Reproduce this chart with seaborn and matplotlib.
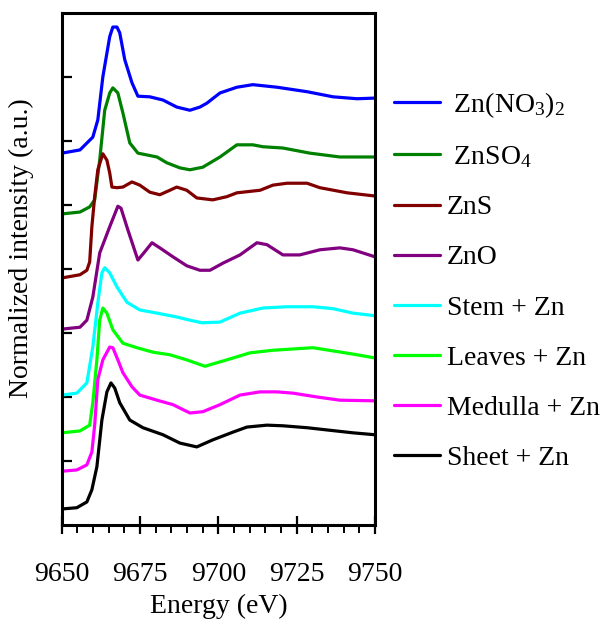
import numpy as np
import matplotlib
matplotlib.use('Agg')
import matplotlib.pyplot as plt
import seaborn as sns
from matplotlib.ticker import MultipleLocator

# energy (eV) / normalized intensity (stacked, offset)
nitrate_e = [9650, 9655.8, 9659.9, 9661.5, 9663.1, 9665.3, 9666.3, 9667.6, 9668.5, 9670.1, 9672.4, 9674.3,
             9678.1, 9682.3, 9686.7, 9690.9, 9694.1, 9696.3, 9700.5, 9705.9, 9711.0, 9718.7, 9728.3,
             9736.6, 9744.3, 9750]
nitrate_i = [5.81, 5.86, 6.06, 6.33, 7.00, 7.63, 7.78, 7.78, 7.69, 7.27, 6.91, 6.70,
             6.69, 6.64, 6.53, 6.48, 6.53, 6.59, 6.75, 6.84, 6.88, 6.84, 6.77,
             6.69, 6.66, 6.67]

sulfate_e = [9650, 9655.8, 9658.9, 9660.5, 9662.1, 9663.7, 9665.3, 9666.3, 9667.9, 9669.5, 9671.7, 9674.3,
             9680.4, 9683.5, 9687.7, 9690.9, 9695.0, 9700.5, 9705.9, 9711.0, 9714.2, 9720.6, 9729.2,
             9738.8, 9750]
sulfate_i = [4.86, 4.89, 4.97, 5.08, 5.70, 6.48, 6.75, 6.83, 6.75, 6.44, 5.97, 5.81,
             5.75, 5.66, 5.58, 5.55, 5.59, 5.75, 5.94, 5.94, 5.91, 5.89, 5.81,
             5.75, 5.75]

zns_e = [9650, 9655.8, 9658.0, 9658.9, 9659.6, 9660.5, 9661.5, 9663.1, 9664.4, 9665.3, 9666.0, 9667.6,
         9669.5, 9672.4, 9674.9, 9678.1, 9681.3, 9684.5, 9686.7, 9689.9, 9693.1, 9698.2, 9702.7,
         9705.9, 9713.3, 9717.4, 9721.9, 9728.3, 9732.4, 9741.1, 9750]
zns_i = [3.86, 3.91, 3.98, 4.11, 4.66, 5.13, 5.55, 5.80, 5.70, 5.50, 5.28, 5.27,
         5.28, 5.36, 5.31, 5.20, 5.16, 5.23, 5.28, 5.23, 5.11, 5.08, 5.13,
         5.19, 5.23, 5.31, 5.34, 5.34, 5.27, 5.19, 5.14]

zno_e = [9650, 9655.8, 9658.0, 9659.9, 9662.1, 9665.3, 9667.9, 9668.9, 9671.1, 9674.3, 9676.5, 9678.8,
         9681.3, 9685.5, 9689.9, 9694.1, 9697.3, 9701.4, 9706.9, 9712.3, 9715.5, 9720.6, 9726.0,
         9732.4, 9738.8, 9743.0, 9750]
zno_i = [3.06, 3.09, 3.20, 3.56, 4.25, 4.66, 4.98, 4.95, 4.61, 4.14, 4.27, 4.41,
         4.33, 4.19, 4.05, 3.98, 3.98, 4.09, 4.22, 4.41, 4.38, 4.22, 4.22,
         4.30, 4.33, 4.30, 4.19]

stem_e = [9650, 9654.8, 9658.0, 9659.9, 9661.5, 9662.8, 9663.7, 9665.3, 9667.6, 9670.8, 9674.9, 9680.4,
          9686.7, 9690.9, 9694.7, 9700.5, 9706.9, 9714.2, 9721.9, 9730.2, 9736.6, 9743.0, 9750]
stem_i = [2.03, 2.06, 2.22, 2.78, 3.47, 3.94, 4.02, 3.94, 3.72, 3.48, 3.36, 3.31,
          3.25, 3.20, 3.16, 3.17, 3.31, 3.39, 3.41, 3.41, 3.38, 3.31, 3.27]

leaves_e = [9650, 9655.8, 9658.9, 9659.9, 9661.2, 9662.1, 9663.1, 9664.4, 9666.3, 9669.5, 9674.0, 9679.1,
            9684.5, 9689.9, 9695.7, 9702.7, 9710.1, 9717.4, 9730.2, 9736.6, 9743.0, 9750]
leaves_i = [1.44, 1.47, 1.56, 1.91, 2.58, 3.20, 3.39, 3.31, 3.05, 2.84, 2.77, 2.70,
            2.66, 2.58, 2.48, 2.58, 2.69, 2.73, 2.77, 2.72, 2.67, 2.61]

medulla_e = [9650, 9654.8, 9658.0, 9659.6, 9660.5, 9661.5, 9663.1, 9665.3, 9666.3, 9667.9, 9669.5, 9672.4,
             9674.9, 9680.4, 9685.5, 9690.9, 9695.0, 9700.5, 9706.9, 9713.3, 9718.7, 9723.8, 9731.5,
             9738.8, 9750]
medulla_i = [0.84, 0.86, 0.94, 1.14, 1.56, 2.27, 2.58, 2.78, 2.77, 2.58, 2.38, 2.16,
             2.03, 1.95, 1.88, 1.75, 1.77, 1.88, 2.03, 2.08, 2.08, 2.06, 2.00,
             1.95, 1.94]

sheet_e = [9650, 9654.8, 9658.0, 9659.6, 9661.2, 9662.8, 9664.4, 9665.7, 9666.9, 9668.5, 9671.7, 9675.9,
           9682.3, 9687.7, 9693.1, 9698.2, 9704.6, 9709.1, 9715.5, 9720.6, 9728.3, 9735.6, 9743.0, 9750]
sheet_i = [0.25, 0.27, 0.36, 0.55, 0.91, 1.64, 2.08, 2.22, 2.14, 1.91, 1.64, 1.52,
           1.41, 1.28, 1.22, 1.33, 1.45, 1.53, 1.56, 1.55, 1.52, 1.48, 1.44, 1.41]

labels = [' Zn(NO$_3$)$_2$', ' ZnSO$_4$', 'ZnS', 'ZnO', 'Stem + Zn', 'Leaves + Zn', 'Medulla + Zn', 'Sheet + Zn']
colors = ['#0000ff', '#008000', '#800000', '#800080', '#00ffff', '#00ff00', '#ff00ff', '#000000']

sns.set_style('ticks', {'axes.edgecolor': 'black', 'text.color': 'black',
                        'xtick.color': 'black', 'ytick.color': 'black', 'axes.labelcolor': 'black'})
plt.rcParams['font.family'] = ['Liberation Serif', 'DejaVu Serif']
plt.rcParams['mathtext.fontset'] = 'custom'
plt.rcParams['mathtext.rm'] = 'Liberation Serif'
plt.rcParams['mathtext.it'] = 'Liberation Serif:italic'

fig = plt.figure(figsize=(6, 6.21), dpi=100)
ax = fig.add_axes([0.103, 0.1546, 0.522, 0.8245])

curves = [(nitrate_e, nitrate_i), (sulfate_e, sulfate_i), (zns_e, zns_i), (zno_e, zno_i),
          (stem_e, stem_i), (leaves_e, leaves_i), (medulla_e, medulla_i), (sheet_e, sheet_i)]
for (e, i), lab, c in zip(curves, labels, colors):
    sns.lineplot(x=e, y=i, color=c, label=lab, ax=ax, linewidth=2.3, sort=False, estimator=None)

ax.set_xlim(9650, 9750)
ax.set_ylim(0, 8)
ax.xaxis.set_major_locator(MultipleLocator(25))
ax.xaxis.set_minor_locator(MultipleLocator(5))
ax.set_yticks([1, 2, 3, 4, 5, 6, 7])
ax.tick_params(axis='x', which='major', direction='inout', length=13, width=1.6, labelsize=20, pad=20,
               colors='black')
ax.tick_params(axis='x', which='minor', direction='out', length=6, width=1.4, colors='black', bottom=True)
ax.tick_params(axis='y', which='major', direction='in', length=7, width=1.6, labelleft=False, colors='black')
for s in ax.spines.values():
    s.set_linewidth(2.2)
    s.set_color('black')

ax.set_xlabel('Energy (eV)', fontsize=20, labelpad=5, color='black')
ax.set_ylabel('Normalized intensity (a.u.)', fontsize=20, color='black')
ax.yaxis.set_label_coords(-0.09, 0.54)

leg = ax.legend(loc='upper left', bbox_to_anchor=(1.061, 0.85), frameon=False, fontsize=20,
                handlelength=1.65, handletextpad=0.25, labelspacing=0.89, borderpad=0, borderaxespad=0)
for t in leg.get_texts():
    t.set_color('black')

fig.savefig('out.png', dpi=100)
